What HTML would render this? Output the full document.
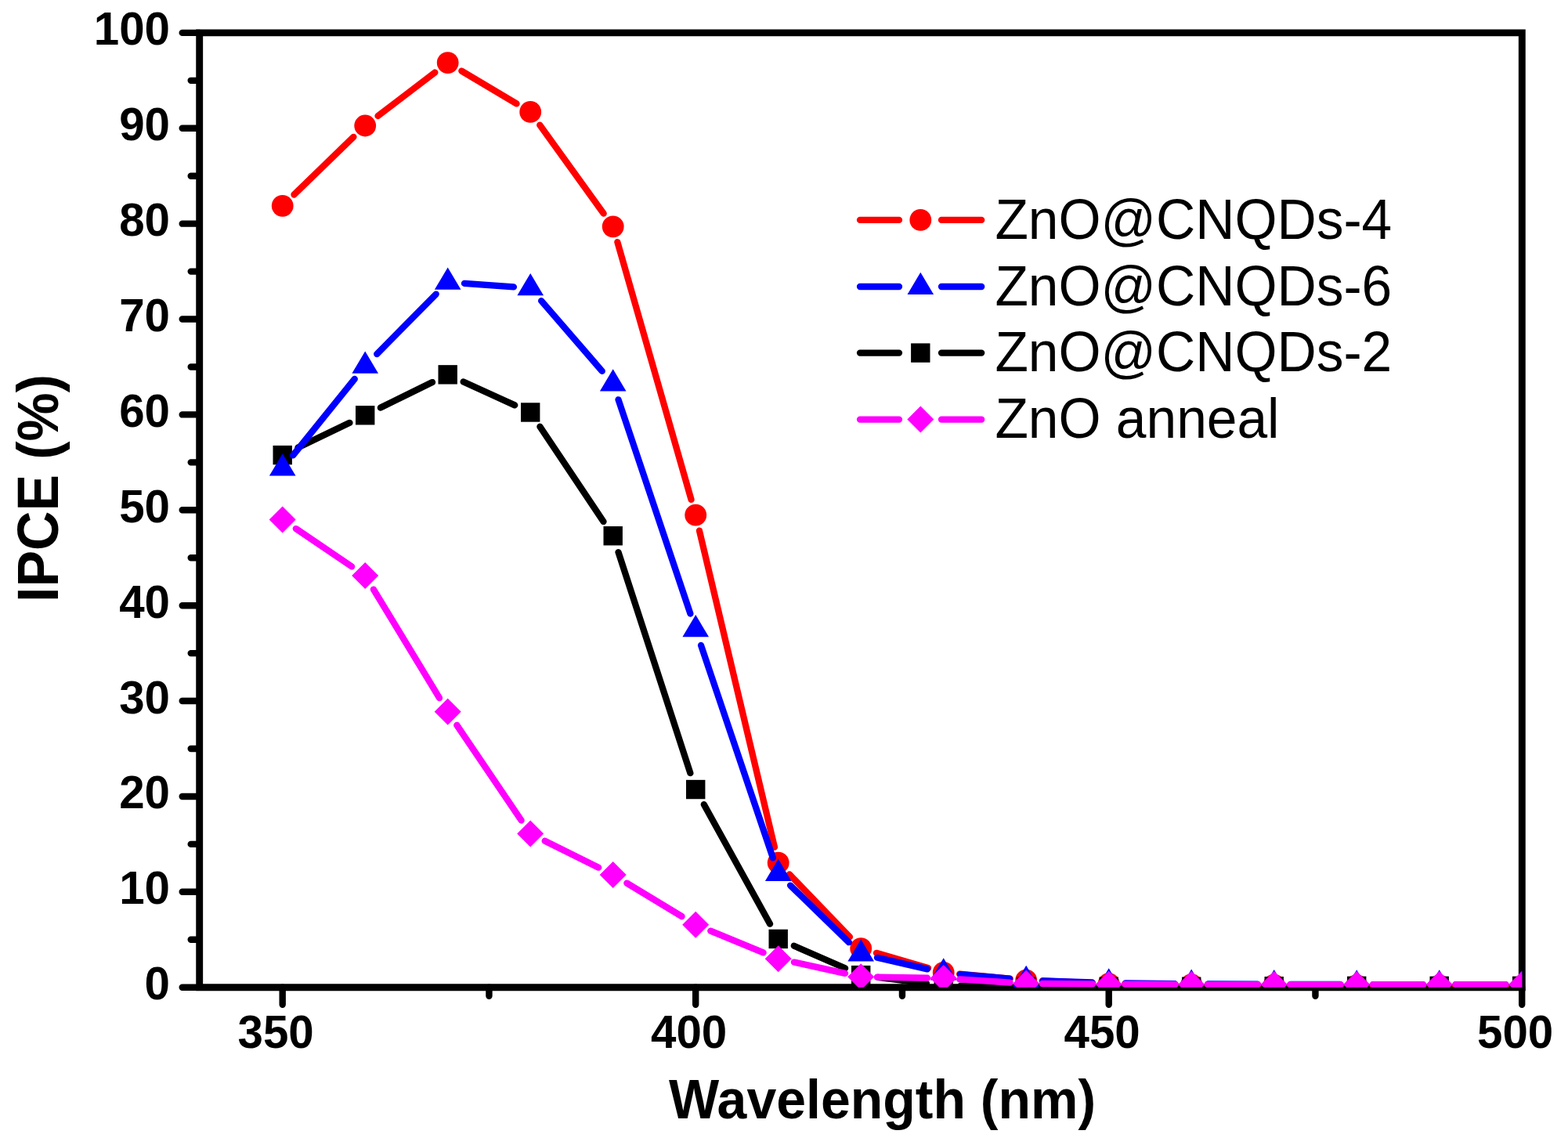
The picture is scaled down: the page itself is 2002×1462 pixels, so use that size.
<!DOCTYPE html>
<html><head><meta charset="utf-8"><title>IPCE vs Wavelength</title>
<style>html,body{margin:0;padding:0;background:#fff;width:2002px;height:1462px;overflow:hidden}svg{display:block}</style>
</head><body><svg width="2002" height="1462" viewBox="0 0 2002 1462"><g stroke="#000" stroke-width="8.9" fill="none"><path d="M254.7 41.9H1943.3V1260.7H254.7Z" stroke-linejoin="miter"/></g><path d="M254.7 1260.7H232.7M254.7 1138.82H232.7M254.7 1016.94H232.7M254.7 895.06H232.7M254.7 773.18H232.7M254.7 651.3H232.7M254.7 529.42H232.7M254.7 407.54H232.7M254.7 285.66H232.7M254.7 163.78H232.7M254.7 41.9H232.7M254.7 1199.76H243.7M254.7 1077.88H243.7M254.7 956H243.7M254.7 834.12H243.7M254.7 712.24H243.7M254.7 590.36H243.7M254.7 468.48H243.7M254.7 346.6H243.7M254.7 224.72H243.7M254.7 102.84H243.7M360.7 1260.7V1282.7M888.2 1260.7V1282.7M1415.7 1260.7V1282.7M1943.2 1260.7V1282.7M624.45 1260.7V1271.7M1151.95 1260.7V1271.7M1679.45 1260.7V1271.7" stroke="#000" stroke-width="8.4" stroke-linecap="round" fill="none"/><g font-family="Liberation Sans, sans-serif" font-weight="bold" font-size="58.3" fill="#000"><text x="217" y="1276.2" text-anchor="end">0</text><text x="217" y="1154.32" text-anchor="end">10</text><text x="217" y="1032.44" text-anchor="end">20</text><text x="217" y="910.56" text-anchor="end">30</text><text x="217" y="788.68" text-anchor="end">40</text><text x="217" y="666.8" text-anchor="end">50</text><text x="217" y="544.92" text-anchor="end">60</text><text x="217" y="423.04" text-anchor="end">70</text><text x="217" y="301.16" text-anchor="end">80</text><text x="217" y="179.28" text-anchor="end">90</text><text x="217" y="57.4" text-anchor="end">100</text><text x="352.1" y="1337.5" text-anchor="middle">350</text><text x="879.6" y="1337.5" text-anchor="middle">400</text><text x="1407.1" y="1337.5" text-anchor="middle">450</text><text x="1934.6" y="1337.5" text-anchor="middle">500</text></g><text transform="translate(1126.5 1428) scale(1 1.035)" text-anchor="middle" font-family="Liberation Sans, sans-serif" font-weight="bold" font-size="68">Wavelength (nm)</text><text transform="translate(73.8 623.5) rotate(-90) scale(1 1.05)" text-anchor="middle" font-family="Liberation Sans, sans-serif" font-weight="bold" font-size="69.8">IPCE (%)</text><defs><clipPath id="c"><rect x="254.7" y="41.9" width="1688.6" height="1218.8"/></clipPath></defs><g clip-path="url(#c)"><path d="M375.45 248.56L451.45 174.8M482.54 148.03L555.36 92.51M589.35 90.57L659.55 132.42M689.22 159.61L770.68 272.65M788.36 309.07L882.54 637.88M892.95 677.63L988.95 1081.65M1007.96 1116.44L1084.94 1196.3M1118.93 1216.84L1184.97 1236.06M1225.16 1243.7L1289.74 1249.67M1330.73 1252.44L1395.17 1255.19M1436.25 1256.26L1500.65 1256.85M1541.75 1257.16L1606.15 1257.53M1647.25 1257.77L1711.65 1258.14M1752.75 1258.31L1817.15 1258.46M1858.25 1258.58L1922.65 1258.8" stroke="#ff0000" stroke-width="8.3" stroke-linecap="round" fill="none"/><circle cx="360.7" cy="262.87" r="13.9" fill="#ff0000"/><circle cx="466.2" cy="160.49" r="13.9" fill="#ff0000"/><circle cx="571.7" cy="80.05" r="13.9" fill="#ff0000"/><circle cx="677.2" cy="142.94" r="13.9" fill="#ff0000"/><circle cx="782.7" cy="289.32" r="13.9" fill="#ff0000"/><circle cx="888.2" cy="657.64" r="13.9" fill="#ff0000"/><circle cx="993.7" cy="1101.65" r="13.9" fill="#ff0000"/><circle cx="1099.2" cy="1211.09" r="13.9" fill="#ff0000"/><circle cx="1204.7" cy="1241.81" r="13.9" fill="#ff0000"/><circle cx="1310.2" cy="1251.56" r="13.9" fill="#ff0000"/><circle cx="1415.7" cy="1256.07" r="13.9" fill="#ff0000"/><circle cx="1521.2" cy="1257.04" r="13.9" fill="#ff0000"/><circle cx="1626.7" cy="1257.65" r="13.9" fill="#ff0000"/><circle cx="1732.2" cy="1258.26" r="13.9" fill="#ff0000"/><circle cx="1837.7" cy="1258.51" r="13.9" fill="#ff0000"/><circle cx="1943.2" cy="1258.87" r="13.9" fill="#ff0000"/><path d="M380.47 571.57L446.43 539.8M485.89 520.58L552.01 488.04M591.67 487.46L657.23 517.38M689.4 544.74L770.5 665.96M789.5 705.08L881.4 987.17M898.82 1027.25L983.08 1179.7M1013.81 1207.71L1079.09 1236.3M1120.98 1247.82L1182.92 1255.54M1226.65 1258.57L1288.25 1259.42M1332.15 1259.72L1393.75 1259.72M1437.65 1259.72L1499.25 1259.72M1543.15 1259.62L1604.75 1259.34M1648.65 1259.16L1710.25 1258.95M1754.15 1258.87L1815.75 1258.87M1859.65 1258.87L1921.25 1258.87" stroke="#000000" stroke-width="8.3" stroke-linecap="round" fill="none"/><rect x="348.5" y="568.9" width="24.4" height="24.4" fill="#000000"/><rect x="454" y="518.07" width="24.4" height="24.4" fill="#000000"/><rect x="559.5" y="466.15" width="24.4" height="24.4" fill="#000000"/><rect x="665" y="514.29" width="24.4" height="24.4" fill="#000000"/><rect x="770.5" y="672.01" width="24.4" height="24.4" fill="#000000"/><rect x="876" y="995.84" width="24.4" height="24.4" fill="#000000"/><rect x="981.5" y="1186.71" width="24.4" height="24.4" fill="#000000"/><rect x="1087" y="1232.9" width="24.4" height="24.4" fill="#000000"/><rect x="1192.5" y="1246.06" width="24.4" height="24.4" fill="#000000"/><rect x="1298" y="1247.52" width="24.4" height="24.4" fill="#000000"/><rect x="1403.5" y="1247.52" width="24.4" height="24.4" fill="#000000"/><rect x="1509" y="1247.52" width="24.4" height="24.4" fill="#000000"/><rect x="1614.5" y="1247.04" width="24.4" height="24.4" fill="#000000"/><rect x="1720" y="1246.67" width="24.4" height="24.4" fill="#000000"/><rect x="1825.5" y="1246.67" width="24.4" height="24.4" fill="#000000"/><rect x="1931" y="1246.67" width="24.4" height="24.4" fill="#000000"/><path d="M374.11 581.42L452.79 483.88M481.2 452.07L556.7 375.57M593 361.9L655.9 366.4M691.16 384.09L768.74 473.9M789.51 510.29L881.39 783.54M895.04 824L986.86 1095.44M1009.02 1130.53L1083.88 1203.17M1120.01 1222.8L1183.89 1237.41M1225.97 1244.07L1288.93 1249.67M1331.54 1252.3L1394.36 1254.48M1437.05 1255.46L1499.85 1256.19M1542.55 1256.51L1605.35 1256.73M1648.05 1256.85L1710.85 1256.99M1753.55 1257.04L1816.35 1257.04M1859.05 1257.04L1921.85 1257.04" stroke="#0000ff" stroke-width="8.3" stroke-linecap="round" fill="none"/><path d="M360.7 579.17L377.5 607.47L343.9 607.47Z" fill="#0000ff"/><path d="M466.2 448.39L483 476.69L449.4 476.69Z" fill="#0000ff"/><path d="M571.7 341.51L588.5 369.81L554.9 369.81Z" fill="#0000ff"/><path d="M677.2 349.06L694 377.36L660.4 377.36Z" fill="#0000ff"/><path d="M782.7 471.19L799.5 499.49L765.9 499.49Z" fill="#0000ff"/><path d="M888.2 784.91L905 813.21L871.4 813.21Z" fill="#0000ff"/><path d="M993.7 1096.8L1010.5 1125.1L976.9 1125.1Z" fill="#0000ff"/><path d="M1099.2 1199.18L1116 1227.48L1082.4 1227.48Z" fill="#0000ff"/><path d="M1204.7 1223.31L1221.5 1251.61L1187.9 1251.61Z" fill="#0000ff"/><path d="M1310.2 1232.69L1327 1260.99L1293.4 1260.99Z" fill="#0000ff"/><path d="M1415.7 1236.35L1432.5 1264.65L1398.9 1264.65Z" fill="#0000ff"/><path d="M1521.2 1237.57L1538 1265.87L1504.4 1265.87Z" fill="#0000ff"/><path d="M1626.7 1237.93L1643.5 1266.23L1609.9 1266.23Z" fill="#0000ff"/><path d="M1732.2 1238.18L1749 1266.48L1715.4 1266.48Z" fill="#0000ff"/><path d="M1837.7 1238.18L1854.5 1266.48L1820.9 1266.48Z" fill="#0000ff"/><path d="M1943.2 1238.18L1960 1266.48L1926.4 1266.48Z" fill="#0000ff"/><path d="M377.8 675.06L449.1 723.33M476.91 752.57L560.99 891.18M583.28 925.93L665.62 1047.5M695.7 1073.76L764.2 1107.71M800.36 1127.59L870.54 1170.16M907.31 1188.7L974.59 1216.3M1013.87 1228.56L1079.03 1242.87M1119.85 1247.65L1184.05 1248.76M1225.31 1250.43L1289.59 1254.52M1330.85 1255.99L1395.05 1256.51M1436.35 1256.75L1500.55 1256.97M1541.85 1257.04L1606.05 1257.04M1647.35 1257.04L1711.55 1257.04M1752.85 1257.04L1817.05 1257.04M1858.35 1257.04L1922.55 1257.04" stroke="#ff00ff" stroke-width="8.3" stroke-linecap="round" fill="none"/><path d="M360.7 646.49L377.7 663.49L360.7 680.49L343.7 663.49Z" fill="#ff00ff"/><path d="M466.2 717.91L483.2 734.91L466.2 751.91L449.2 734.91Z" fill="#ff00ff"/><path d="M571.7 891.83L588.7 908.83L571.7 925.83L554.7 908.83Z" fill="#ff00ff"/><path d="M677.2 1047.6L694.2 1064.6L677.2 1081.6L660.2 1064.6Z" fill="#ff00ff"/><path d="M782.7 1099.88L799.7 1116.88L782.7 1133.88L765.7 1116.88Z" fill="#ff00ff"/><path d="M888.2 1163.87L905.2 1180.87L888.2 1197.87L871.2 1180.87Z" fill="#ff00ff"/><path d="M993.7 1207.14L1010.7 1224.14L993.7 1241.14L976.7 1224.14Z" fill="#ff00ff"/><path d="M1099.2 1230.29L1116.2 1247.29L1099.2 1264.29L1082.2 1247.29Z" fill="#ff00ff"/><path d="M1204.7 1232.12L1221.7 1249.12L1204.7 1266.12L1187.7 1249.12Z" fill="#ff00ff"/><path d="M1310.2 1238.82L1327.2 1255.82L1310.2 1272.82L1293.2 1255.82Z" fill="#ff00ff"/><path d="M1415.7 1239.68L1432.7 1256.68L1415.7 1273.68L1398.7 1256.68Z" fill="#ff00ff"/><path d="M1521.2 1240.04L1538.2 1257.04L1521.2 1274.04L1504.2 1257.04Z" fill="#ff00ff"/><path d="M1626.7 1240.04L1643.7 1257.04L1626.7 1274.04L1609.7 1257.04Z" fill="#ff00ff"/><path d="M1732.2 1240.04L1749.2 1257.04L1732.2 1274.04L1715.2 1257.04Z" fill="#ff00ff"/><path d="M1837.7 1240.04L1854.7 1257.04L1837.7 1274.04L1820.7 1257.04Z" fill="#ff00ff"/><path d="M1943.2 1240.04L1960.2 1257.04L1943.2 1274.04L1926.2 1257.04Z" fill="#ff00ff"/></g><path d="M1098 280.9H1148M1202 280.9H1253.2" stroke="#ff0000" stroke-width="8.3" stroke-linecap="round"/><circle cx="1175.3" cy="280.9" r="13.9" fill="#ff0000"/><text transform="translate(1270.4 304.6) scale(1 1.042)" font-family="Liberation Sans, sans-serif" font-size="69.5">ZnO@CNQDs-4</text><path d="M1098 366H1148M1202 366H1253.2" stroke="#0000ff" stroke-width="8.3" stroke-linecap="round"/><path d="M1175.3 347.73L1192.1 376.03L1158.5 376.03Z" fill="#0000ff"/><text transform="translate(1270.4 389.7) scale(1 1.042)" font-family="Liberation Sans, sans-serif" font-size="69.5">ZnO@CNQDs-6</text><path d="M1098 450.6H1148M1202 450.6H1253.2" stroke="#000000" stroke-width="8.3" stroke-linecap="round"/><rect x="1163.1" y="438.4" width="24.4" height="24.4" fill="#000000"/><text transform="translate(1270.4 474.3) scale(1 1.042)" font-family="Liberation Sans, sans-serif" font-size="69.5">ZnO@CNQDs-2</text><path d="M1098 535.6H1148M1202 535.6H1253.2" stroke="#ff00ff" stroke-width="8.3" stroke-linecap="round"/><path d="M1175.3 518.6L1192.3 535.6L1175.3 552.6L1158.3 535.6Z" fill="#ff00ff"/><text transform="translate(1270.4 559.3) scale(1 1.042)" font-family="Liberation Sans, sans-serif" font-size="69.5">ZnO anneal</text></svg></body></html>
